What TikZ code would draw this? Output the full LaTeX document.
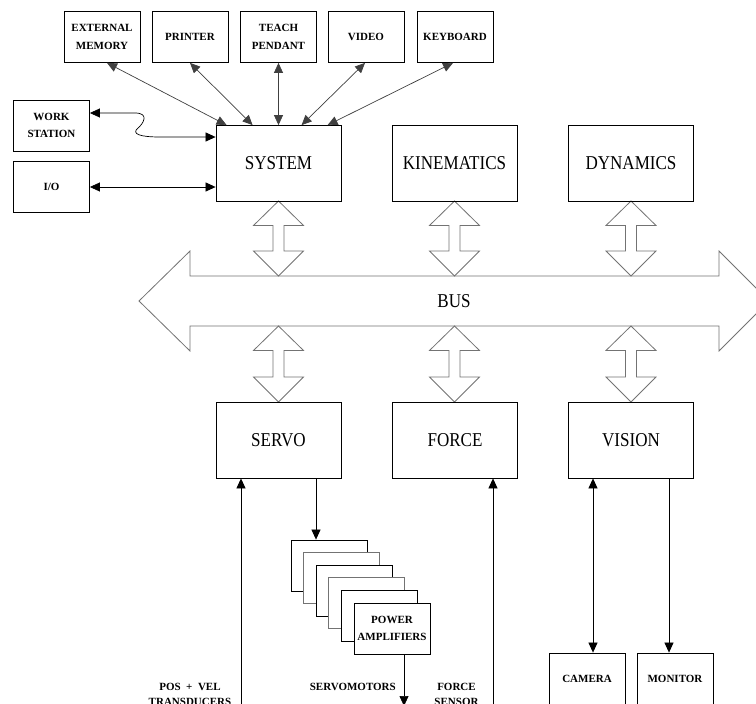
\documentclass[tikz,border=0pt]{standalone}
\usepackage{fontspec}
\setmainfont{Liberation Serif}
\newfontfamily\bigfont[FakeStretch=0.87]{Liberation Serif}
\usetikzlibrary{arrows.meta,calc}
\tikzset{
 smallbox/.style={draw, line width=0.8pt, minimum width=76pt, minimum height=51pt, inner sep=0pt, align=center, font=\fontsize{11}{17.5}\selectfont\bfseries, fill=white},
 bigbox/.style={draw, line width=0.8pt, minimum width=125pt, minimum height=76pt, inner sep=0pt, font=\fontsize{19.6}{22}\selectfont\bigfont},
 con/.style={line width=0.7pt, -{Triangle[length=10pt,width=9pt]}},
 dcon/.style={line width=0.7pt, {Triangle[length=10pt,width=9pt]}-{Triangle[length=10pt,width=9pt]}},
 thin con/.style={con, draw=black!75},
 thin dcon/.style={dcon, draw=black!75},
 blk/.style={draw=black!55, line width=0.8pt, fill=white, line join=miter},
 lbl/.style={font=\fontsize{11}{15}\selectfont\bfseries, align=center, inner sep=0pt},
}
\newcommand\vdarrow[3]{%
  \draw[blk] (#1,#2) -- (#1+25,#2+24.5) -- (#1+5.5,#2+24.5) -- (#1+5.5,#3-25) -- (#1+25,#3-25) -- (#1,#3)
    -- (#1-25,#3-25) -- (#1-5.5,#3-25) -- (#1-5.5,#2+24.5) -- (#1-25,#2+24.5) -- cycle;}
\begin{document}
\begin{tikzpicture}[x=1pt,y=-1pt]
\useasboundingbox (0,0) rectangle (756,704);
\fill[white] (0,0) rectangle (756,704);
\clip (0,0) rectangle (756,704);

% bus
\draw[blk] (139,301) -- (190,251) -- (190,276) -- (719,276) -- (719,251) -- (769,301)
  -- (719,351) -- (719,326) -- (190,326) -- (190,351) -- cycle;
\node[font=\fontsize{19.6}{22}\selectfont\bigfont] (bus) at (454,301) {BUS};

% block double arrows
\vdarrow{278.5}{201}{276}
\vdarrow{454.5}{201}{276}
\vdarrow{631}{201}{276}
\vdarrow{278.5}{326}{402}
\vdarrow{454.5}{326}{402}
\vdarrow{631}{326}{402}

% top peripherals
\node[smallbox] (ext) at (102,37) {EXTERNAL\\MEMORY};
\node[smallbox] (prn) at (190,37) {PRINTER};
\node[smallbox] (tch) at (278.5,37) {TEACH\\PENDANT};
\node[smallbox] (vid) at (366,37) {VIDEO};
\node[smallbox] (kbd) at (455,37) {KEYBOARD};
\node[smallbox] (ws) at (51.5,125.5) {WORK\\STATION};
\node[smallbox] (io) at (51.5,187) {I/O};

% main boxes
\node[bigbox] (sys) at (278.5,163.5) {SYSTEM};
\node[bigbox] (kin) at (454.5,163.5) {KINEMATICS};
\node[bigbox] (dyn) at (631,163.5) {DYNAMICS};
\node[bigbox] (servo) at (278.5,440) {SERVO};
\node[bigbox] (force) at (455,440) {FORCE};
\node[bigbox] (vision) at (631,440) {VISION};

% power amplifier stack
\node[smallbox] (pa0) at (329,565.5) {};
\node[smallbox, draw=black!55] (pa1) at (341.6,578.1) {};
\node[smallbox] (pa2) at (354.2,590.7) {};
\node[smallbox, draw=black!55] (pa3) at (366.8,603.3) {};
\node[smallbox] (pa4) at (379.4,615.9) {};
\node[smallbox] (pa5) at (392,628.5) {POWER\\AMPLIFIERS};

% camera, monitor
\node[smallbox] (cam) at (587,678.5) {CAMERA};
\node[smallbox] (mon) at (675,678.5) {MONITOR};

% connectors to system
\draw[thin dcon] ([xshift=5pt]ext.south) -- ([xshift=11pt]sys.north west);
\draw[thin dcon] (prn.south) -- ([xshift=37pt]sys.north west);
\draw[thin dcon] (tch.south) -- (sys.north);
\draw[thin dcon] ([xshift=-1pt]vid.south) -- ([xshift=86pt]sys.north west);
\draw[thin dcon] ([xshift=-2pt]kbd.south) -- ([xshift=112pt]sys.north west);
\draw[dcon] ([yshift=12.5pt]ws.east) -- (135,113)
  .. controls (150,113) and (143,124) .. (138,128)
  .. controls (131,134) and (140,137) .. (160,137) -- ([yshift=26.5pt]sys.west);
\draw[dcon] (io.east) -- ([yshift=-23.5pt]sys.west);

% lower connectors
\coordinate (pvin) at (241,712);
\coordinate (fsin) at (493,712);
\coordinate (smout) at (404,706);
\draw[con] (pvin) -- ([xshift=-37.5pt]servo.south);
\draw[con] ([xshift=37.5pt]servo.south) -- ([xshift=-13pt]pa0.north);
\draw[con] ([xshift=12pt]pa5.south) -- (smout);
\draw[con] (fsin) -- ([xshift=38pt]force.south);
\draw[dcon] ([xshift=-38pt]vision.south) -- ([xshift=6pt]cam.north);
\draw[con] ([xshift=38pt]vision.south) -- ([xshift=-6pt]mon.north);

% labels
\node[lbl] (pvlbl) at (190,694.5) {POS~~+~~VEL\\TRANSDUCERS};
\node[lbl, anchor=east] (smlbl) at (396,686.5) {SERVOMOTORS};
\node[lbl] (fslbl) at (456.5,694.5) {FORCE\\SENSOR};
\end{tikzpicture}
\end{document}
